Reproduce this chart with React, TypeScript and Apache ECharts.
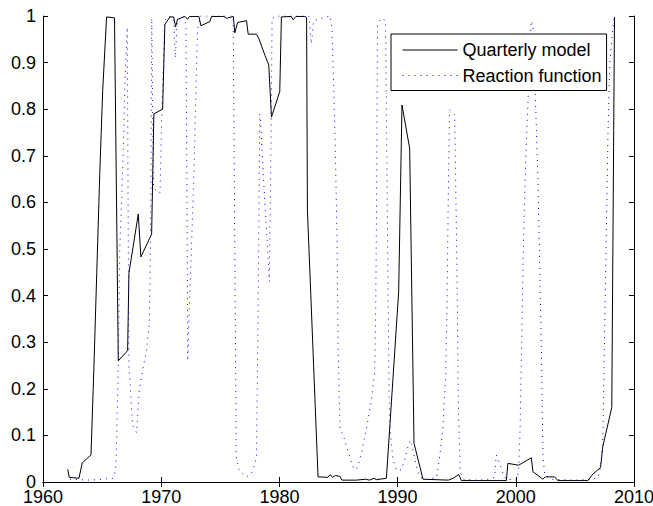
import React, { useEffect, useRef } from "react";
import * as echarts from "echarts";

// Tick values
const xTicks = [1960, 1970, 1980, 1990, 2000, 2010];
const yTicks = [0, 0.1, 0.2, 0.3, 0.4, 0.5, 0.6, 0.7, 0.8, 0.9, 1];

const seriesNames = ["Quarterly model", "Reaction function"];

// Quarterly model (solid black): [year, value]
const quarterlyModel: [number, number][] = [
  [1962.09, 0.027], [1962.22, 0.01], [1963.04, 0.008], [1963.32, 0.041], [1964.06, 0.058],
  [1964.3, 0.24], [1964.55, 0.45], [1964.8, 0.66], [1965.05, 0.84], [1965.38, 0.998],
  [1966.05, 0.996], [1966.37, 0.26], [1967.16, 0.282], [1967.27, 0.448], [1968.06, 0.575],
  [1968.28, 0.483], [1969.19, 0.532], [1969.38, 0.79], [1970.12, 0.8], [1970.31, 0.982],
  [1970.74, 0.998], [1971.05, 0.998], [1971.22, 0.977], [1971.38, 0.993], [1972.0, 0.999],
  [1972.23, 0.993], [1972.4, 0.999], [1973.19, 0.999], [1973.36, 0.979], [1974.12, 0.988],
  [1974.26, 0.999], [1975.3, 0.999], [1975.53, 0.995], [1976.1, 0.999], [1976.23, 0.964],
  [1976.46, 0.986], [1977.22, 0.99], [1977.36, 0.961], [1978.06, 0.961], [1978.26, 0.952],
  [1978.77, 0.916], [1979.1, 0.895], [1979.33, 0.783], [1980.03, 0.838], [1980.17, 0.998],
  [1981.0, 0.999], [1981.16, 0.992], [1981.4, 0.999], [1982.15, 0.999], [1982.3, 0.997],
  [1982.37, 0.584], [1983.27, 0.011], [1984.1, 0.01], [1984.3, 0.016], [1984.5, 0.01],
  [1984.75, 0.014], [1985.1, 0.012], [1985.3, 0.004], [1986.5, 0.004], [1987.3, 0.006],
  [1987.6, 0.004], [1988.0, 0.008], [1988.2, 0.005], [1989.05, 0.008], [1989.25, 0.084],
  [1990.09, 0.408], [1990.37, 0.809], [1991.02, 0.716], [1991.39, 0.083], [1992.15, 0.006],
  [1994.3, 0.004], [1994.7, 0.008], [1995.17, 0.016], [1995.4, 0.003], [1999.2, 0.003],
  [1999.33, 0.04], [2000.24, 0.036], [2001.31, 0.052], [2001.45, 0.022], [2002.29, 0.006],
  [2002.49, 0.011], [2003.28, 0.011], [2003.56, 0.003], [2006.1, 0.003], [2006.52, 0.017],
  [2007.17, 0.031], [2007.36, 0.076], [2008.12, 0.16], [2008.35, 0.998],
];

// Reaction function (dotted blue): [year, value]
const reactionFunction: [number, number][] = [
  [1962.28, 0.006], [1963.0, 0.005], [1964.0, 0.004], [1965.0, 0.006], [1965.9, 0.008],
  [1966.14, 0.026], [1966.23, 0.09], [1966.37, 0.26], [1966.5, 0.505], [1966.65, 0.605],
  [1966.79, 0.712], [1966.93, 0.856], [1967.13, 0.976], [1967.2, 0.6], [1967.27, 0.25],
  [1967.58, 0.122], [1967.92, 0.106], [1968.14, 0.197], [1968.48, 0.247], [1968.76, 0.283],
  [1968.99, 0.34], [1969.1, 0.52], [1969.2, 0.995], [1969.35, 0.63], [1969.9, 0.62],
  [1970.05, 0.79], [1970.3, 0.99], [1970.6, 1.0], [1971.05, 0.995], [1971.2, 0.91],
  [1971.35, 0.99], [1971.9, 1.0], [1972.1, 0.98], [1972.25, 0.26], [1972.37, 0.37],
  [1972.57, 0.51], [1972.76, 0.655], [1972.9, 0.8], [1973.07, 0.97], [1973.3, 1.0],
  [1976.09, 1.0], [1976.35, 0.05], [1976.6, 0.025], [1977.22, 0.011], [1977.64, 0.019],
  [1977.95, 0.04], [1978.06, 0.054], [1978.2, 0.37], [1978.34, 0.79], [1978.4, 0.78],
  [1978.55, 0.7], [1978.77, 0.6], [1979.0, 0.5], [1979.15, 0.43], [1979.3, 0.75],
  [1979.38, 0.995], [1980.0, 1.0], [1982.5, 1.0], [1982.7, 0.94], [1982.9, 0.99],
  [1984.3, 1.0], [1984.45, 0.97], [1984.7, 0.75], [1984.88, 0.52], [1984.96, 0.3],
  [1985.12, 0.115], [1985.4, 0.1], [1985.7, 0.075], [1986.0, 0.05], [1986.3, 0.027],
  [1986.6, 0.03], [1986.94, 0.062], [1987.22, 0.097], [1987.5, 0.133], [1987.78, 0.176],
  [1988.06, 0.235], [1988.15, 0.38], [1988.22, 0.6], [1988.3, 0.98], [1988.6, 0.995],
  [1988.98, 0.99], [1989.27, 0.2], [1989.35, 0.12], [1989.6, 0.05], [1989.9, 0.025],
  [1990.3, 0.026], [1990.6, 0.047], [1990.88, 0.076], [1991.08, 0.09], [1991.3, 0.069],
  [1991.59, 0.033], [1991.9, 0.01], [1992.5, 0.005], [1993.28, 0.009], [1993.56, 0.054],
  [1993.84, 0.12], [1994.07, 0.233], [1994.18, 0.376], [1994.28, 0.6], [1994.4, 0.798],
  [1994.83, 0.788], [1995.0, 0.5], [1995.15, 0.15], [1995.3, 0.02], [1995.6, 0.006],
  [1996.5, 0.004], [1997.5, 0.005], [1998.2, 0.01], [1998.35, 0.058], [1998.63, 0.04],
  [1998.91, 0.019], [1999.2, 0.005], [2000.1, 0.006], [2000.25, 0.03], [2000.35, 0.1],
  [2000.5, 0.3], [2000.65, 0.52], [2000.85, 0.7], [2001.05, 0.83], [2001.3, 0.99],
  [2001.45, 0.98], [2001.65, 0.83], [2001.87, 0.655], [2002.1, 0.37], [2002.2, 0.23],
  [2002.3, 0.054], [2002.45, 0.015], [2003.0, 0.006], [2004.0, 0.005], [2005.0, 0.004],
  [2006.0, 0.005], [2006.9, 0.008], [2007.08, 0.019], [2007.25, 0.05], [2007.37, 0.1],
  [2007.5, 0.3], [2007.65, 0.52], [2007.8, 0.75], [2007.95, 0.9], [2008.2, 0.97],
  [2008.35, 1.0],
];

const FONT = "'Liberation Sans', Arial, Helvetica, sans-serif";

export default function App() {
  const ref = useRef<HTMLDivElement>(null);

  useEffect(() => {
    if (!ref.current) return;
    const chart = echarts.init(ref.current, null, { renderer: "svg" });

    const xMin = xTicks[0];
    const xMax = xTicks[xTicks.length - 1];
    const xInt = xTicks[1] - xTicks[0];
    const yMin = yTicks[0];
    const yMax = yTicks[yTicks.length - 1];
    const yInt = 0.1;

    const axisLine = { show: true, lineStyle: { color: "#000", width: 1 } };
    const tick = { show: true, inside: true, length: 5, lineStyle: { color: "#000", width: 1 } };
    const label = { color: "#000", fontSize: 18, fontFamily: FONT };

    chart.setOption({
      animation: false,
      backgroundColor: "#fff",
      grid: {
        left: 43,
        right: 19,
        top: 16,
        bottom: 24,
        containLabel: false,
        outerBoundsMode: "none",
      },
      legend: {
        show: true,
        orient: "vertical",
        left: 391,
        top: 34,
        itemWidth: 55,
        itemHeight: 20,
        itemGap: 5.5,
        padding: [6, 5, 5, 11],
        backgroundColor: "#fff",
        borderColor: "#000",
        borderWidth: 1,
        borderRadius: 0,
        selectedMode: false,
        data: seriesNames,
        itemStyle: { opacity: 0 },
        lineStyle: { width: 1 },
        textStyle: { fontSize: 18, fontFamily: FONT, color: "#000", lineHeight: 20 },
      },
      xAxis: [
        {
          type: "value",
          position: "bottom",
          min: xMin,
          max: xMax,
          interval: xInt,
          axisLine,
          axisTick: tick,
          splitLine: { show: false },
          axisLabel: { ...label, margin: 6, formatter: (v: number) => String(v) },
        },
        {
          type: "value",
          position: "top",
          min: xMin,
          max: xMax,
          interval: xInt,
          axisLine,
          axisTick: tick,
          splitLine: { show: false },
          axisLabel: { show: false },
        },
      ],
      yAxis: [
        {
          type: "value",
          position: "left",
          min: yMin,
          max: yMax,
          interval: yInt,
          axisLine,
          axisTick: tick,
          splitLine: { show: false },
          axisLabel: {
            ...label,
            margin: 7,
            formatter: (v: number) => String(Math.round(v * 10) / 10),
          },
        },
        {
          type: "value",
          position: "right",
          min: yMin,
          max: yMax,
          interval: yInt,
          axisLine,
          axisTick: tick,
          splitLine: { show: false },
          axisLabel: { show: false },
        },
      ],
      series: [
        {
          name: seriesNames[0],
          type: "line",
          xAxisIndex: 0,
          yAxisIndex: 0,
          data: quarterlyModel,
          symbol: "none",
          showSymbol: false,
          color: "#000",
          lineStyle: { color: "#000", width: 1 },
          z: 2,
        },
        {
          name: seriesNames[1],
          type: "line",
          xAxisIndex: 0,
          yAxisIndex: 0,
          data: reactionFunction,
          symbol: "none",
          showSymbol: false,
          color: "#0000ff",
          lineStyle: { color: "#0000ff", width: 1, type: [1, 5] },
          z: 3,
        },
      ],
    });

    return () => chart.dispose();
  }, []);

  return (
    <div
      ref={ref}
      style={{ position: "fixed", left: 0, top: 0, width: 653, height: 506, background: "#fff" }}
    />
  );
}
